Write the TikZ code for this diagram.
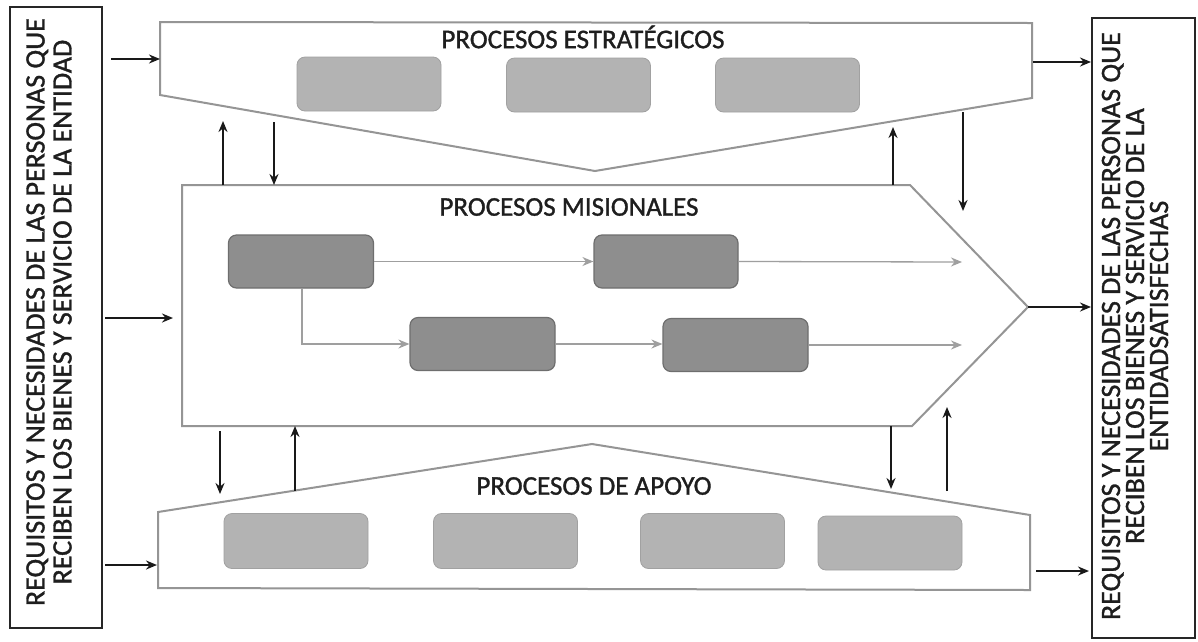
\documentclass[tikz,border=0pt]{standalone}
\usepackage{fontspec}
\setmainfont{Carlito}[BoldFont={Carlito},BoldFeatures={FakeBold=1.2}]
\usetikzlibrary{arrows.meta}
\definecolor{shapeline}{HTML}{959595}
\definecolor{lightbox}{HTML}{B3B3B3}
\definecolor{darkbox}{HTML}{8E8E8E}
\definecolor{darkedge}{HTML}{6E6E6E}
\definecolor{txt}{HTML}{1E1E1E}
\tikzset{
  procshape/.style={draw=shapeline, line width=2pt, fill=white, line join=miter},
  sidebox/.style={draw=black!85, line width=1.6pt, fill=white, inner sep=0pt},
  lightrect/.style={fill=lightbox, draw=lightbox!90!black, line width=0.8pt, rounded corners=8pt, minimum width=144pt, minimum height=54pt, inner sep=0pt},
  darkrect/.style={fill=darkbox, draw=darkedge, line width=1.2pt, rounded corners=8pt, minimum width=145pt, minimum height=53pt, inner sep=0pt},
  blackarrow/.style={draw=black!90, line width=1.9pt, -{Stealth[length=11pt,width=9pt]}},
  grayarrow/.style={draw=gray!75, line width=1.3pt, -{Stealth[length=11pt,width=9pt]}},
  title/.style={text=txt, font=\fontsize{27}{30}\selectfont\bfseries, inner sep=0pt},
  sidetext/.style={text=txt, rotate=90, align=center, inner sep=0pt}
}
\begin{document}
\begin{tikzpicture}[x=1pt, y=-1pt]
\useasboundingbox (0,0) rectangle (1198,641);
\fill[white] (0,0) rectangle (1198,641);

% side boxes
\node[sidebox, minimum width=92pt, minimum height=621pt] (leftbox) at (56,317.5) {};
\node[sidebox, minimum width=103pt, minimum height=620pt] (rightbox) at (1143.5,328) {};
\node[sidetext, font=\fontsize{28}{27}\selectfont\bfseries] (lefttext) at (49,312) {REQUISITOS Y NECESIDADES DE LAS PERSONAS QUE\\RECIBEN LOS BIENES Y SERVICIO DE LA ENTIDAD};
\node[sidetext, font=\fontsize{28}{24}\selectfont\bfseries] (righttext) at (1135,326) {REQUISITOS Y NECESIDADES DE LAS PERSONAS QUE\\RECIBEN LOS BIENES Y SERVICIO DE LA\\ENTIDADSATISFECHAS};

% process shapes
\draw[procshape] (160,22) -- (1032,23) -- (1032,98) -- (595,171) -- (160,95) -- cycle;
\draw[procshape] (182,185) -- (910,185) -- (1028,307) -- (912,426) -- (182,426) -- cycle;
\draw[procshape] (158,512) -- (592,444) -- (1030,515) -- (1030,590) -- (158,588) -- cycle;

% titles
\node[title] (ttop) at (583,37) {PROCESOS ESTRATÉGICOS};
\node[title] (tmid) at (569,207) {PROCESOS MISIONALES};
\node[title] (tbot) at (594,486) {PROCESOS DE APOYO};

% strategic boxes
\node[lightrect] (s1) at (369,84) {};
\node[lightrect] (s2) at (578.5,85) {};
\node[lightrect] (s3) at (787.5,85) {};

% support boxes
\node[lightrect, minimum height=55pt] (p1) at (296,541) {};
\node[lightrect, minimum height=55pt] (p2) at (505.5,541) {};
\node[lightrect, minimum height=55pt] (p3) at (712.5,541) {};
\node[lightrect] (p4) at (890,543) {};

% missional boxes
\node[darkrect] (ma) at (301,261.5) {};
\node[darkrect, minimum width=144pt] (mb) at (666,261.5) {};
\node[darkrect] (mc) at (482.5,344) {};
\node[darkrect] (md) at (735.5,345) {};
\coordinate (endb) at (962,262);
\coordinate (endd) at (962,345);
\coordinate (bend) at (302,344);

\draw[grayarrow] (ma.east) -- (ma.east -| mb.west);
\draw[grayarrow] (mb.east) -- (endb);
\draw[grayarrow] (ma.south -| bend) -- (bend) -- (mc.west);
\draw[grayarrow] (mc.east) -- (mc.east -| md.west);
\draw[grayarrow] (md.east) -- (endd);

% external arrows
\coordinate (l1) at (111,59);  \coordinate (l1e) at (160,59);
\coordinate (l2) at (105,318); \coordinate (l2e) at (173,318);
\coordinate (l3) at (105,565); \coordinate (l3e) at (157,565);
\coordinate (r1) at (1033,62); \coordinate (r1e) at (1091,62);
\coordinate (r2) at (1028,307); \coordinate (r2e) at (1091,307);
\coordinate (r3) at (1036,571); \coordinate (r3e) at (1089,571);
\draw[blackarrow] (l1) -- (l1e);
\draw[blackarrow] (l2) -- (l2e);
\draw[blackarrow] (l3) -- (l3e);
\draw[blackarrow] (r1) -- (r1e);
\draw[blackarrow] (r2) -- (r2e);
\draw[blackarrow] (r3) -- (r3e);

% vertical arrows
\coordinate (v1a) at (223,185); \coordinate (v1b) at (223,121);
\coordinate (v2a) at (274,122); \coordinate (v2b) at (274,185);
\coordinate (v3a) at (893,185); \coordinate (v3b) at (893,127);
\coordinate (v4a) at (963,112); \coordinate (v4b) at (963,211);
\coordinate (v5a) at (220,431); \coordinate (v5b) at (220,494);
\coordinate (v6a) at (295,491); \coordinate (v6b) at (295,426);
\coordinate (v7a) at (891,426); \coordinate (v7b) at (891,489);
\coordinate (v8a) at (947,491); \coordinate (v8b) at (947,407);
\draw[blackarrow] (v1a) -- (v1b);
\draw[blackarrow] (v2a) -- (v2b);
\draw[blackarrow] (v3a) -- (v3b);
\draw[blackarrow] (v4a) -- (v4b);
\draw[blackarrow] (v5a) -- (v5b);
\draw[blackarrow] (v6a) -- (v6b);
\draw[blackarrow] (v7a) -- (v7b);
\draw[blackarrow] (v8a) -- (v8b);
\end{tikzpicture}
\end{document}
